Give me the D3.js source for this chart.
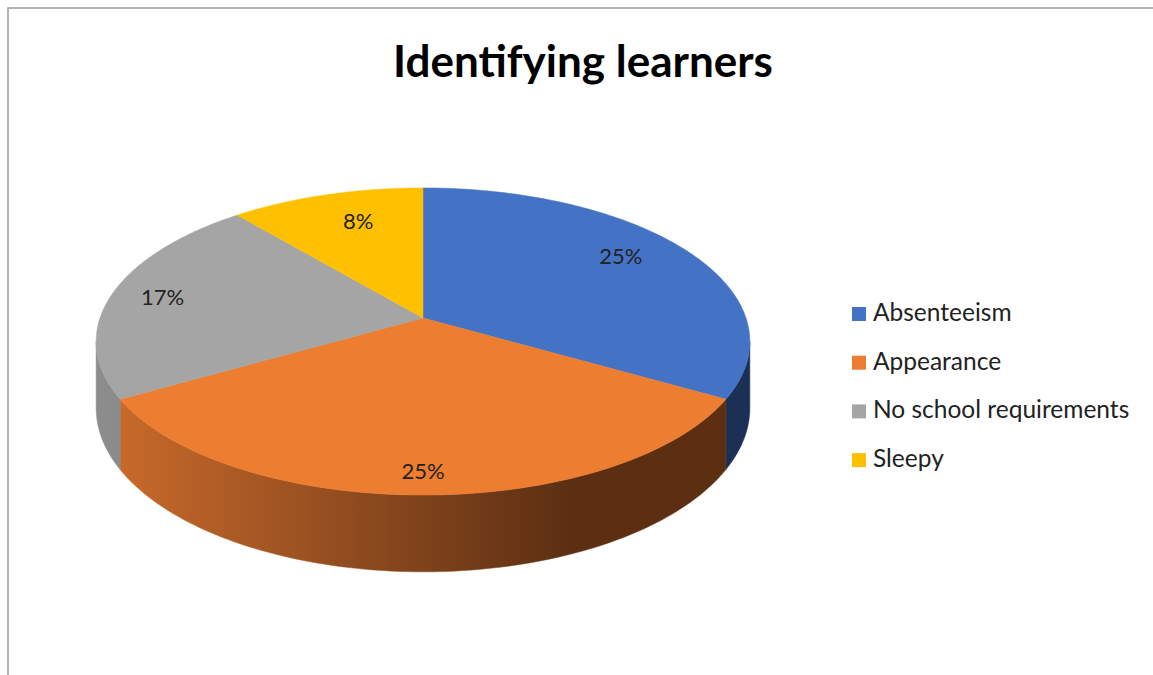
<!DOCTYPE html>
<html>
<head>
<meta charset="utf-8">
<script src="https://cdn.jsdelivr.net/npm/d3@7"></script>
<style>
  body { margin: 0; background: #fff; }
</style>
</head>
<body>
<div id="chart"></div>
<script>
// data
var categories = ["Absenteeism", "Appearance", "No school requirements", "Sleepy"];
var counts = [3, 3, 2, 1];
var pctLabels = ["25%", "25%", "17%", "8%"];
var colors = ["#4472c4", "#ed7d31", "#a5a5a5", "#ffc000"];
var sideColors = [["#2a4478", "#1c2f55"], ["#cc6c2c", "#5c2f13"], ["#8c8c8c", "#7a7a7a"], ["#b38600", "#8a6800"]];

var W = 1153, H = 675;

var svg = d3.select("#chart").append("svg")
    .attr("width", W)
    .attr("height", H)
    .style("font-family", "Lato, 'Open Sans', sans-serif");

// chart border
svg.append("rect")
    .attr("x", 8).attr("y", 8)
    .attr("width", W + 10).attr("height", H + 10)
    .attr("fill", "none")
    .attr("stroke", "#999")
    .attr("stroke-width", 1.5);

svg.append("text")
    .attr("x", 583).attr("y", 77)
    .attr("text-anchor", "middle")
    .style("font-size", "44px")
    .style("font-weight", "bold")
    .text("Identifying learners");

// projection of the tilted disk (with a bit of perspective)
var cx = 423, cy = 318, rx = 323, ry = 150, persp = 0.153, depth = 65;

function project(t, f) {
  var u = f * Math.sin(t), v = -f * Math.cos(t);
  var k = 1 / (1 - persp * v);
  return [cx + rx * u * k, cy + ry * v * k, depth * k];
}

var pie = d3.pie().sort(null).value(function(d) { return d; });
var arcs = pie(counts);

var defs = svg.append("defs");
arcs.forEach(function(a, i) {
  var g = defs.append("linearGradient")
      .attr("id", "side" + i)
      .attr("gradientUnits", "userSpaceOnUse")
      .attr("x1", cx - rx).attr("x2", cx + rx * 0.45)
      .attr("y1", 0).attr("y2", 0);
  g.append("stop").attr("offset", "0%").attr("stop-color", sideColors[i][0]);
  g.append("stop").attr("offset", "100%").attr("stop-color", sideColors[i][1]);
});

// side walls, only the front part of the rim is visible
var visA = Math.acos(-persp), visB = 2 * Math.PI - visA;
var sides = svg.append("g");
arcs.forEach(function(a, i) {
  var a0 = Math.max(a.startAngle, visA), a1 = Math.min(a.endAngle, visB);
  if (a1 <= a0) return;
  var n = 80, top = [], bot = [];
  for (var j = 0; j <= n; j++) {
    var t = a0 + (a1 - a0) * j / n;
    var p = project(t, 1);
    top.push([p[0], p[1]]);
    bot.push([p[0], p[1] + p[2]]);
  }
  var pts = top.concat(bot.reverse());
  sides.append("path")
      .attr("d", d3.line()(pts) + "Z")
      .attr("fill", "url(#side" + i + ")")
      .attr("stroke", "url(#side" + i + ")")
      .attr("stroke-width", 0.5);
});

// top faces
var tops = svg.append("g");
arcs.forEach(function(a, i) {
  var n = 120, pts = [[cx, cy]];
  for (var j = 0; j <= n; j++) {
    var t = a.startAngle + (a.endAngle - a.startAngle) * j / n;
    var p = project(t, 1);
    pts.push([p[0], p[1]]);
  }
  tops.append("path")
      .attr("d", d3.line()(pts) + "Z")
      .attr("fill", colors[i])
      .attr("stroke", colors[i])
      .attr("stroke-width", 0.5);
});

// data labels (radial fraction + small nudge like Excel's placement)
var labelFrac = [0.74, 0.86, 0.86, 0.74];
var labelNudge = [[2, -9], [0, 4], [7, 1], [9, -3]];
function labelPos(d, i) {
  var p = project((d.startAngle + d.endAngle) / 2, labelFrac[i]);
  return [p[0] + labelNudge[i][0], p[1] + labelNudge[i][1]];
}
svg.append("g").selectAll("text")
    .data(arcs)
    .join("text")
    .attr("x", function(d, i) { return labelPos(d, i)[0]; })
    .attr("y", function(d, i) { return labelPos(d, i)[1] + 8; })
    .attr("text-anchor", "middle")
    .style("font-size", "22px")
    .attr("fill", "#222")
    .text(function(d, i) { return pctLabels[i]; });

// legend
var legend = svg.append("g").selectAll("g")
    .data(categories)
    .join("g")
    .attr("transform", function(d, i) { return "translate(852," + (307 + i * 48.7) + ")"; });

legend.append("rect")
    .attr("width", 14).attr("height", 14)
    .attr("fill", function(d, i) { return colors[i]; });

legend.append("text")
    .attr("x", 21).attr("y", 14)
    .style("font-size", "24.5px")
    .attr("fill", "#222")
    .text(function(d) { return d; });
</script>
</body>
</html>
